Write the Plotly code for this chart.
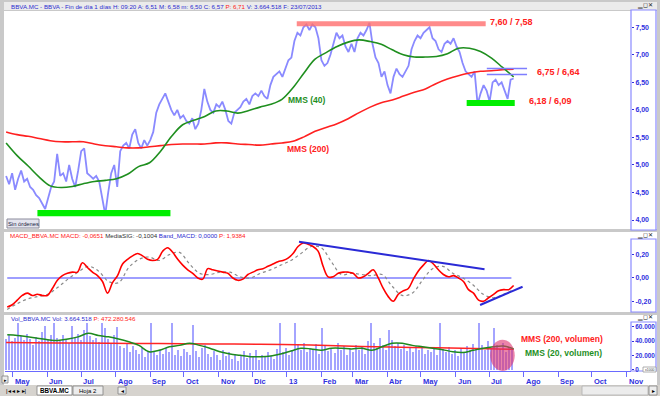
import pandas as pd
import plotly.graph_objects as go

W, H = 660, 396
FONT = "Liberation Sans, Arial, sans-serif"
AXBLUE = "#2f2fe0"

# ---------------- data ----------------
price = [
    4.80, 4.65, 4.85, 4.55, 4.75, 4.90, 4.70, 4.75, 4.60, 4.55,
    4.45, 4.40, 4.30, 4.20, 4.40, 4.60, 4.70, 5.20, 4.80, 4.85,
    4.70, 5.00, 4.75, 4.60, 4.90, 5.25, 5.30, 4.85, 4.80, 4.75,
    4.80, 4.70, 4.40, 4.10, 4.50, 4.85, 5.00, 4.60, 5.25, 5.35,
    5.40, 5.30, 5.55, 5.65, 5.40, 5.30, 5.45, 5.35, 5.45, 5.60,
    5.95, 6.10, 6.20, 6.30, 6.15, 6.00, 5.90, 6.00, 5.85, 5.90,
    5.80, 5.75, 5.85, 5.65, 5.75, 6.00, 6.38, 6.15, 6.00, 5.95,
    6.10, 6.05, 6.15, 6.00, 5.80, 5.75, 5.95, 6.00, 6.05, 6.15,
    6.20, 6.10, 6.25, 6.30, 6.25, 6.35, 6.25, 6.20, 6.45, 6.60,
    6.65, 6.70, 6.60, 6.75, 6.90, 6.95, 7.25, 7.40, 7.35, 7.50,
    7.55, 7.45, 7.55, 7.50, 7.30, 6.90, 6.80, 6.85, 7.00, 7.20,
    7.40, 7.30, 7.35, 7.15, 7.05, 7.20, 7.05, 7.30, 7.40, 7.35,
    7.45, 7.58, 7.20, 6.95, 6.85, 6.60, 6.70, 6.45, 6.30, 6.60,
    6.75, 6.65, 6.60, 6.70, 6.80, 7.10, 7.25, 7.35, 7.30, 7.40,
    7.45, 7.50, 7.30, 7.25, 7.10, 7.05, 7.20, 7.25, 7.20, 7.30,
    7.15, 7.05, 6.85, 6.70, 6.65, 6.60, 6.70, 6.10, 6.30, 6.45,
    6.35, 6.15, 6.50, 6.55, 6.45, 6.50, 6.35, 6.20, 6.55, 6.57,
]
mms40 = [
    5.40, 5.17, 4.98, 4.78, 4.62, 4.59, 4.61, 4.66, 4.70, 4.72,
    4.75, 4.83, 4.97, 5.04, 5.25, 5.52, 5.73, 5.81, 5.88, 5.98,
    5.98, 5.94, 5.99, 6.05, 6.10, 6.19, 6.40, 6.67, 6.92, 7.04,
    7.15, 7.23, 7.27, 7.24, 7.19, 7.09, 7.00, 6.96, 6.96, 6.97,
    7.02, 7.12, 7.12, 7.06, 6.94, 6.77, 6.60,
]
mms200 = [
    5.60, 5.55, 5.52, 5.48, 5.44, 5.42, 5.42, 5.42, 5.38, 5.35,
    5.33, 5.31, 5.31, 5.33, 5.35, 5.37, 5.38, 5.38, 5.38, 5.40,
    5.40, 5.38, 5.37, 5.36, 5.38, 5.40, 5.43, 5.51, 5.61, 5.68,
    5.75, 5.84, 5.95, 6.05, 6.13, 6.18, 6.25, 6.32, 6.38, 6.48,
    6.56, 6.62, 6.67, 6.70, 6.71, 6.73, 6.74,
]
macd = [
    -0.25, -0.23, -0.19, -0.15, -0.13, -0.15, -0.14, -0.15, -0.15, -0.09,
    -0.02, 0.02, 0.04, 0.05, 0.05, 0.13, 0.09, 0.05, 0.02, -0.03,
    -0.13, -0.04, 0.02, 0.12, 0.16, 0.19, 0.21, 0.19, 0.16, 0.15,
    0.16, 0.23, 0.26, 0.22, 0.16, 0.11, 0.07, 0.04, 0.00, -0.01,
    0.08, 0.07, 0.06, 0.05, 0.04, 0.00, -0.02, -0.01, 0.03, 0.05,
    0.07, 0.08, 0.10, 0.12, 0.14, 0.15, 0.17, 0.21, 0.27, 0.30,
    0.29, 0.27, 0.23, 0.10, 0.01, 0.01, 0.04, 0.05, 0.05, 0.04,
    0.00, 0.01, 0.04, 0.07, 0.00, -0.09, -0.16, -0.20, -0.14, -0.11,
    -0.09, -0.01, 0.06, 0.11, 0.15, 0.12, 0.07, 0.03, 0.01, 0.02,
    0.00, -0.03, -0.10, -0.13, -0.19, -0.20, -0.17, -0.14, -0.11, -0.10,
    -0.10, -0.065,
]
signal = [
    -0.27, -0.22, -0.18, -0.16, -0.14, -0.08, -0.01, 0.05, 0.10, 0.06,
    -0.03, -0.04, 0.09, 0.16, 0.18, 0.15, 0.20, 0.22, 0.12, 0.04,
    0.03, 0.05, 0.05, 0.01, 0.00, 0.04, 0.07, 0.11, 0.15, 0.21,
    0.27, 0.26, 0.14, 0.03, 0.04, 0.03, 0.02, 0.03, -0.07, -0.15,
    -0.13, -0.02, 0.08, 0.10, 0.04, 0.00, -0.06, -0.14, -0.17, -0.14,
    -0.10,
]
volume = [  # thousands
    43, 49, 40, 45, 66, 47, 41, 50, 43, 35,
    46, 40, 53, 62, 42, 49, 66, 45, 40, 48,
    43, 38, 61, 44, 50, 42, 55, 66, 47, 41,
    45, 39, 66, 58, 43, 37, 49, 60, 33, 30,
    36, 25, 33, 28, 22, 30, 18, 26, 66, 24,
    20, 28, 22, 30, 25, 66, 21, 27, 19, 29,
    24, 20, 63, 26, 18, 30, 35, 22, 17, 26,
    21, 14, 28, 19, 24, 15, 22, 12, 20, 26,
    16, 23, 18, 27, 14, 21, 17, 25, 19, 15,
    29, 66, 24, 30, 20, 27, 66, 35, 28, 38,
    24, 31, 27, 36, 22, 58, 34, 26, 30, 23,
    37, 28, 33, 21, 29, 25, 35, 27, 32, 22,
    40, 66, 38, 30, 44, 35, 28, 55, 42, 33,
    37, 29, 34, 26, 30, 24, 33, 27, 31, 22,
    28, 25, 30, 20, 66, 29, 24, 32, 22, 27,
    19, 30, 25, 33, 28, 36, 30, 66, 35, 28,
    40, 31, 58, 34, 29, 37, 25, 32, 28,
]
vol_mms20 = [
    49, 48, 46, 44, 42, 41, 43, 46, 51, 48,
    46, 43, 39, 34, 25, 27, 32, 34, 37, 34,
    30, 25, 22, 20, 18, 18, 19, 22, 26, 30,
    29, 27, 30, 30, 29, 30, 27, 32, 37, 37,
    34, 32, 30, 28, 25, 24, 27, 30, 32, 33,
    29,
]
vol_mms200 = [38, 37.5, 37, 36.5, 36, 35.5, 34.5, 32.5, 31, 30, 28.5]

month_ticks = ["2012-05-01", "2012-06-01", "2012-07-01", "2012-08-01", "2012-09-01",
               "2012-10-01", "2012-11-01", "2012-12-01", "2013-01-01", "2013-02-01",
               "2013-03-01", "2013-04-01", "2013-05-01", "2013-06-01", "2013-07-01",
               "2013-08-01", "2013-09-01", "2013-10-01", "2013-11-01"]
month_labels = ["May", "Jun", "Jul", "Ago", "Sep", "Oct", "Nov", "Dic", "13", "Feb",
                "Mar", "Abr", "May", "Jun", "Jul", "Ago", "Sep", "Oct", "Nov"]
price_ticks = [4.0, 4.5, 5.0, 5.5, 6.0, 6.5, 7.0, 7.5]
price_tick_text = ["4,00", "4,50", "5,00", "5,50", "6,00", "6,50", "7,00", "7,50"]
macd_ticks = [-0.2, 0.0, 0.2]
macd_tick_text = ["-0,20", "0,00", "0,20"]
vol_ticks = [0, 20, 40, 60]
vol_tick_text = ["0", "20.000", "40.000", "60.000"]

resist_band = (7.52, 7.61)
support_band1 = (4.07, 4.18)
support_band2 = (6.07, 6.18)
resist_lines = (6.75, 6.64)


def px(x):
    return x / W


def py(y):
    return 1 - y / H


def dr(a, b, n):
    return pd.date_range(a, b, periods=n)


fig = go.Figure()

# ---- volume panel ----
fig.add_bar(x=dr("2012-04-25", "2013-07-22", len(volume)), y=volume, yaxis="y3",
            marker=dict(color="#a4a4ff", line_width=0), width=1.2 * 86400000)
fig.add_scatter(x=dr("2012-04-25", "2013-07-23", len(vol_mms200)), y=vol_mms200, yaxis="y3",
                mode="lines", line=dict(color="#ff2424", width=1.5, shape="spline"))
fig.add_scatter(x=dr("2012-04-26", "2013-07-23", len(vol_mms20)), y=vol_mms20, yaxis="y3",
                mode="lines", line=dict(color="#1e8a1e", width=1.5, shape="spline"))

# ---- MACD panel ----
fig.add_scatter(x=dr("2012-04-26", "2013-07-23", len(signal)), y=signal, yaxis="y2",
                mode="lines", line=dict(color="#8a8a8a", width=1.2, dash="dot", shape="spline"))
fig.add_scatter(x=dr("2012-04-26", "2013-07-23", len(macd)), y=macd, yaxis="y2",
                mode="lines", line=dict(color="#ff0000", width=1.6, shape="spline"))

# ---- price panel ----
fig.add_scatter(x=dr("2012-04-25", "2013-07-23", len(price)), y=price, yaxis="y",
                mode="lines", line=dict(color="#8a8aff", width=1.8))
fig.add_scatter(x=dr("2012-04-25", "2013-07-23", len(mms200)), y=mms200, yaxis="y",
                mode="lines", line=dict(color="#ff2020", width=1.6, shape="spline"))
fig.add_scatter(x=dr("2012-04-25", "2013-07-23", len(mms40)), y=mms40, yaxis="y",
                mode="lines", line=dict(color="#1f8f1f", width=1.6, shape="spline"))

shapes = []


def prect(x0, y0, x1, y1, fill, line=None, lw=1, layer="below"):
    shapes.append(dict(type="rect", xref="paper", yref="paper", x0=px(x0), x1=px(x1),
                       y0=py(y1), y1=py(y0), fillcolor=fill, layer=layer,
                       line=dict(color=line or fill, width=lw if line else 0)))


# window chrome
prect(4, 2, 657, 10, "#ebebeb")
prect(4, 11, 657, 229, "#ffffff")
prect(4, 232, 657, 312, "#ffffff")
prect(4, 315, 657, 385, "#ffffff")
prect(631, 10, 656, 230, "#ffffff", "#8a8aff", 1.2)
prect(631, 239, 656, 312, "#ffffff", "#8a8aff", 1.2)
prect(631, 322, 656, 371, "#ffffff", "#8a8aff", 1.2)
prect(643, 367, 656, 372, "#ffffff", "#9a9a9a", 0.8, layer="above")
prect(7, 219, 39, 228, "#e4e4ee", "#8c8c9c", 1, layer="above")
# bottom bar
prect(0, 385, 660, 396, "#d6d3ce")
prect(37, 386, 72, 395, "#ffffff", "#808080", 0.8)
prect(73, 386, 103, 395, "#ececec", "#808080", 0.8)
prect(118, 387, 126, 394, "#ececec", "#808080", 0.8)
prect(582, 386, 648, 395, "#ececec", "#b0b0b0", 0.8)
prect(649, 386, 657, 395, "#ececec", "#808080", 0.8)
prect(2, 376, 8, 383, "#ececec", "#808080", 0.8)

# data annotations
shapes.append(dict(type="rect", xref="x", yref="y", x0="2013-01-10", x1="2013-06-28",
                   y0=resist_band[0], y1=resist_band[1], fillcolor="#ff6e6e", opacity=0.8,
                   line_width=0, layer="above"))
shapes.append(dict(type="rect", xref="x", yref="y", x0="2012-05-23", x1="2012-09-19",
                   y0=support_band1[0], y1=support_band1[1], fillcolor="#00ee00",
                   line_width=0, layer="above"))
shapes.append(dict(type="rect", xref="x", yref="y", x0="2013-06-11", x1="2013-07-24",
                   y0=support_band2[0], y1=support_band2[1], fillcolor="#00ee00",
                   line_width=0, layer="above"))
for lv in resist_lines:
    shapes.append(dict(type="line", xref="x", yref="y", x0="2013-06-29", x1="2013-08-04",
                       y0=lv, y1=lv, line=dict(color="#7e7eff", width=1.5), layer="above"))
shapes.append(dict(type="line", xref="x", yref="y2", x0="2012-04-26", x1="2013-07-21",
                   y0=0, y1=0, line=dict(color="#7e7eff", width=1.5), layer="below"))
shapes.append(dict(type="line", xref="x", yref="y2", x0="2013-01-12", x1="2013-06-27",
                   y0=0.31, y1=0.075, line=dict(color="#2a2ad6", width=2), layer="above"))
shapes.append(dict(type="line", xref="x", yref="y2", x0="2013-06-23", x1="2013-07-31",
                   y0=-0.232, y1=-0.075, line=dict(color="#2a2ad6", width=2), layer="above"))
shapes.append(dict(type="circle", xref="x", yref="y3", x0="2013-07-02", x1="2013-07-24",
                   y0=-2, y1=42, fillcolor="rgba(222,50,110,0.6)", line_width=0, layer="above"))

ann = []


def text(x, y, s, size=7, color="#000000", bold=False, anchor="left"):
    ann.append(dict(xref="paper", yref="paper", x=px(x), y=py(y), text=s, showarrow=False,
                    xanchor=anchor, yanchor="middle",
                    font=dict(family=FONT, size=size, color=color,
                              weight="bold" if bold else "normal")))


B = "#2b2bd0"
text(9, 6.5, "BBVA.MC - BBVA - Fin de día 1 días H: 09:20 A: 6,51 M: 6,58 m: 6,50 C: 6,57 "
     "<span style='color:#ff2020'>P: 6,71</span> V: 3.664.518 F: 23/07/2013", size=6.2, color=B)
text(8, 236, "<span style='color:#ff2020'>MACD_BBVA.MC MACD: -0,0651</span> "
     "<span style='color:#303030'>MediaSIG: -0,1004</span> Band_MACD: 0,0000 "
     "<span style='color:#ff2020'>P: 1,9384</span>", size=6.2, color=B)
text(9, 318, "Vol_BBVA.MC Vol: 3.664.518 <span style='color:#ff2020'>P: 472.280.546</span>",
     size=6.2, color=B)
for yy in (6, 235, 317):
    text(655, yy, "▁◻✕", size=6, color="#202020", anchor="right")
text(23, 223.5, "Sin órdenes", size=5.8, color="#202040", anchor="center")

text(488, 22, "7,60 / 7,58", size=9, color="#ff2020", bold=True)
text(535, 72, "6,75 / 6,64", size=9, color="#ff2020", bold=True)
text(527, 101, "6,18 / 6,09", size=9, color="#ff2020", bold=True)
text(286, 100, "MMS (40)", size=8.5, color="#1f8f1f", bold=True)
text(285, 149, "MMS (200)", size=8.5, color="#ff2020", bold=True)
text(519, 339, "MMS (200, volumen)", size=8.5, color="#ff2020", bold=True)
text(523, 353, "MMS (20, volumen)", size=8.5, color="#1f8f1f", bold=True)
text(650, 369.5, "x1000", size=3.5, color="#404040", anchor="center")

# month labels (left aligned at the month tick)
for d, lab in zip(month_ticks, month_labels):
    ann.append(dict(xref="x", yref="paper", x=d, y=py(381.5), text=lab, showarrow=False,
                    xanchor="left", yanchor="middle", xshift=0,
                    font=dict(family=FONT, size=7.5, color=AXBLUE, weight="bold")))

# bottom bar texts
text(4, 390.5, "|◂ ◂ ▸ ▸|", size=6, color="#000000")
text(54.5, 390.5, "BBVA.MC", size=6.3, color="#000000", bold=True, anchor="center")
text(88, 390.5, "Hoja 2", size=6, color="#000000", anchor="center")
text(122, 390.5, "◂", size=6, color="#000000", anchor="center")
text(653, 390.5, "▸", size=6, color="#000000", anchor="center")
text(5, 379.5, "▸", size=5, color="#000000", anchor="center")

yax_common = dict(side="right", anchor="x", showgrid=False, zeroline=False, showline=False,
                  ticks="outside", ticklen=2, tickcolor=AXBLUE, tickwidth=1,
                  tickfont=dict(family=FONT, size=7, color=AXBLUE, weight="bold"),
                  fixedrange=True, automargin=False)

fig.update_layout(
    width=W, height=H, margin=dict(l=0, r=0, t=0, b=0, autoexpand=False),
    paper_bgcolor="#c9c9c9", plot_bgcolor="rgba(0,0,0,0)",
    showlegend=False, hovermode=False, bargap=0,
    xaxis=dict(domain=[px(5), px(631)], type="date", range=["2012-04-24", "2013-11-05"],
               anchor="y3", tickvals=month_ticks, showticklabels=False,
               ticks="outside", ticklen=5, tickcolor="#6a6aff",
               showline=True, linecolor="#6a6aff", linewidth=1.2,
               showgrid=False, zeroline=False, fixedrange=True, automargin=False),
    yaxis=dict(domain=[py(229), py(12)], range=[3.837, 7.777],
               tickvals=price_ticks, ticktext=price_tick_text, **yax_common),
    yaxis2=dict(domain=[py(312), py(233)], range=[-0.292, 0.386],
                tickvals=macd_ticks, ticktext=macd_tick_text, **yax_common),
    yaxis3=dict(domain=[py(371), py(316)], range=[-2.1, 75.4],
                tickvals=vol_ticks, ticktext=vol_tick_text,
                **{**yax_common, "tickfont": dict(family=FONT, size=6.4, color=AXBLUE,
                                                  weight="bold")}),
    shapes=shapes, annotations=ann,
)

fig.write_html("out.html", config={"displayModeBar": False},
               post_script="document.body.style.margin='0';document.body.style.overflow='hidden';")
